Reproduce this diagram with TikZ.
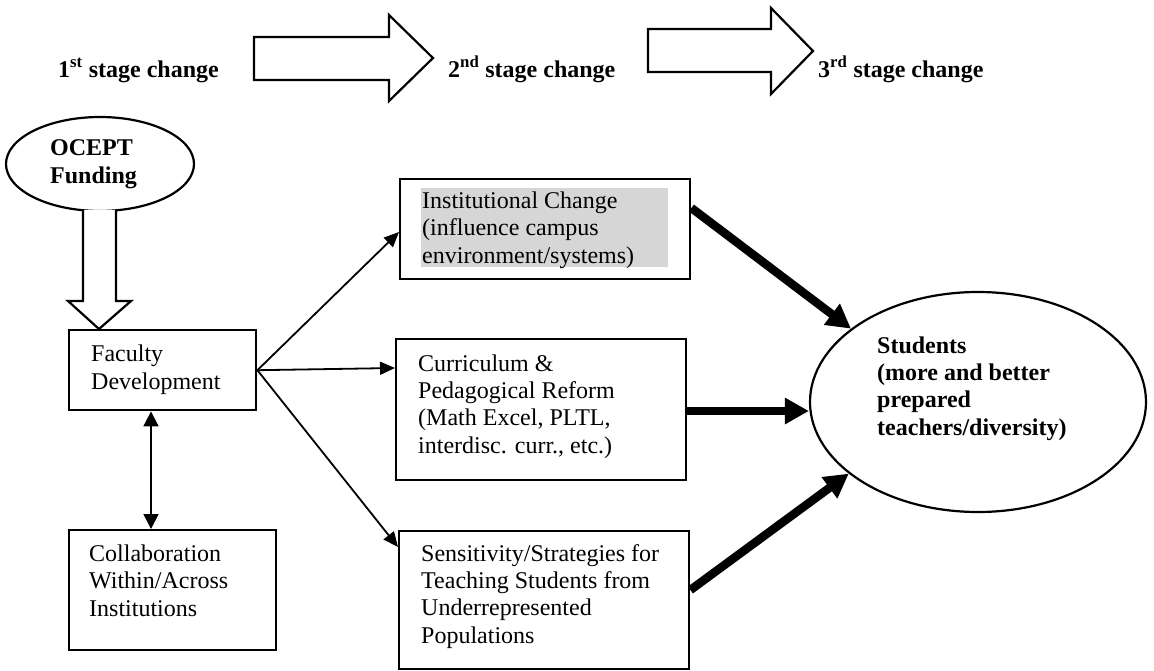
\documentclass[tikz,border=0pt]{standalone}
\usepackage{fontspec}
\setmainfont{Liberation Serif}
\usetikzlibrary{arrows.meta,shapes.geometric,calc}
\begin{document}
\begin{tikzpicture}[x=1pt,y=-1pt,
  box/.style={draw, line width=2.4pt, inner sep=0pt, anchor=north west},
  oval/.style={draw, ellipse, line width=2.2pt, inner sep=0pt},
  txt/.style={anchor=base west, inner sep=0pt, align=left, font=\fontsize{24}{27.3}\selectfont},
  btxt/.style={anchor=base west, inner sep=0pt, align=left, font=\fontsize{24}{27.3}\selectfont\bfseries},
  thinarrow/.style={line width=1.8pt, -{Triangle[length=15pt,width=13pt]}},
  dblarrow/.style={line width=1.8pt, {Triangle[length=15pt,width=15pt]}-{Triangle[length=15pt,width=15pt]}},
  thickarrow/.style={line width=8.5pt, -{Triangle[length=24pt,width=25pt]}},
  blockarrow/.style={draw, line width=2.2pt, fill=white, line join=miter}]
\useasboundingbox (0,0) rectangle (1154,670);

% top row
\node[btxt] (t1) at (58,77) {1\textsuperscript{st} stage change};
\node[btxt] (t2) at (448,77) {2\textsuperscript{nd} stage change};
\node[btxt] (t3) at (818,77) {3\textsuperscript{rd} stage change};
\draw[blockarrow] (254,37) -- (389,37) -- (389,15) -- (433,58) -- (389,101) -- (389,80) -- (254,80) -- cycle;
\draw[blockarrow] (648,29) -- (771,29) -- (771,8) -- (813,51) -- (771,94) -- (771,72) -- (648,72) -- cycle;

% nodes (text nodes are anchored at the baseline of their last line)
\node[oval, minimum width=188pt, minimum height=94pt] (ocept) at (100,164) {};
\node[btxt] (oceptt) at (50,183) {OCEPT\\Funding};

\node[box, minimum width=187pt, minimum height=80pt] (fac) at (68,329) {};
\node[txt] (fact) at (91,389) {Faculty\\Development};

\node[box, minimum width=207pt, minimum height=120pt] (col) at (68,529) {};
\node[txt] (colt) at (89,616) {Collaboration\\Within/Across\\Institutions};

\node[box, minimum width=290pt, minimum height=100pt] (inst) at (399,178) {};
\fill[black!16] (421,188) rectangle (668,267);
\node[txt] (instt) at (422,263) {Institutional Change\\(influence campus\\environment/systems)};

\node[box, minimum width=290pt, minimum height=141pt] (cur) at (395,338) {};
\node[txt] (curt) at (418,453) {Curriculum \&\\Pedagogical Reform\\(Math Excel, PLTL,\\interdisc. curr., etc.)};

\node[box, minimum width=290pt, minimum height=138pt] (sen) at (398,530) {};
\node[txt] (sent) at (421,643) {Sensitivity/Strategies for\\Teaching Students from\\Underrepresented\\Populations};

\node[oval, minimum width=336pt, minimum height=220pt] (stu) at (978,402) {};
\node[btxt] (stut) at (877,435) {Students\\(more and better\\prepared\\teachers/diversity)};

% hollow arrow from funding
\draw[blockarrow] (83,210) -- (83,301) -- (68,301) -- (99,329) -- (131,301) -- (116,301) -- (116,210);

% thin connectors
\coordinate (instin) at ($(inst.north west)+(0,54)$);
\coordinate (curin) at ($(cur.north west)+(0,30)$);
\coordinate (senin) at ($(sen.north west)+(0,17)$);
\draw[thinarrow] (fac.east) -- (instin);
\draw[thinarrow] (fac.east) -- (curin);
\draw[thinarrow] (fac.east) -- (senin);
\coordinate (dx) at (151,0);
\draw[dblarrow] (fac.south -| dx) -- (col.north -| dx);

% thick connectors
\coordinate (instout) at ($(inst.north east)+(0,30)$);
\coordinate (curout) at ($(cur.north east)+(0,73)$);
\coordinate (senout) at ($(sen.north east)+(0,60)$);
\draw[thickarrow] (instout) -- (stu.150);
\draw[thickarrow] (curout) -- (curout -| stu.west);
\draw[thickarrow] (senout) -- (stu.209);
\end{tikzpicture}
\end{document}
